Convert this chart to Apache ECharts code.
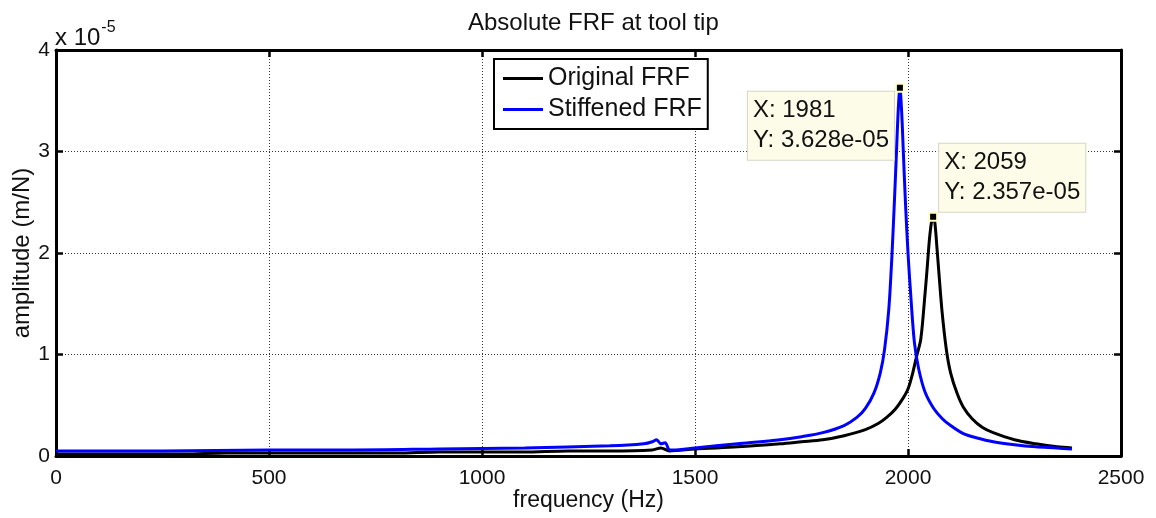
<!DOCTYPE html>
<html>
<head>
<meta charset="utf-8">
<title>Absolute FRF at tool tip</title>
<script src="https://cdn.jsdelivr.net/npm/echarts@6/dist/echarts.min.js"></script>
<style>
  html, body { margin: 0; padding: 0; background: #fff; }
  #chart { width: 1156px; height: 518px; }
</style>
</head>
<body>
<div id="chart"></div>
<script>
// Frequency response magnitude at the tool tip (amplitude in units of 1e-5 m/N)
const AMP_SCALE_EXP = -5;

const originalFreq = [0, 100, 200, 300, 400, 500, 600, 700, 800, 900, 1000, 1100, 1200, 1300, 1400, 1420, 1440,
  1500, 1600, 1700, 1750, 1800, 1850, 1900, 1930, 1950, 1970, 1990, 2000, 2010, 2020, 2030, 2040, 2045, 2050,
  2055, 2059, 2063, 2068, 2073, 2080, 2090, 2100, 2115, 2130, 2150, 2175, 2200, 2250, 2300, 2350, 2385];
const originalAmp = [0.02, 0.02, 0.02, 0.02, 0.03, 0.03, 0.03, 0.03, 0.03, 0.04, 0.04, 0.04, 0.05, 0.05, 0.06, 0.08, 0.05,
  0.07, 0.09, 0.12, 0.14, 0.16, 0.20, 0.26, 0.32, 0.38, 0.46, 0.58, 0.66, 0.80, 0.98, 1.15, 1.60, 1.85, 2.12,
  2.30, 2.357, 2.30, 2.05, 1.78, 1.42, 1.05, 0.82, 0.62, 0.48, 0.37, 0.28, 0.23, 0.16, 0.12, 0.09, 0.08];

const stiffenedFreq = [0, 250, 500, 700, 900, 1100, 1300, 1380, 1400, 1410, 1420, 1430, 1440, 1450,
  1500, 1600, 1700, 1750, 1800, 1850, 1880, 1900, 1920, 1935, 1945, 1955, 1962, 1968, 1973, 1977, 1981,
  1985, 1989, 1994, 2000, 2007, 2015, 2025, 2040, 2060, 2080, 2100, 2130, 2160, 2200, 2250, 2300, 2350, 2385];
const stiffenedAmp = [0.05, 0.05, 0.06, 0.06, 0.07, 0.08, 0.10, 0.12, 0.14, 0.16, 0.12, 0.13, 0.06, 0.06,
  0.08, 0.12, 0.16, 0.19, 0.23, 0.30, 0.38, 0.47, 0.62, 0.82, 1.05, 1.45, 1.95, 2.50, 3.00, 3.40, 3.628,
  3.40, 3.00, 2.50, 2.00, 1.55, 1.12, 0.86, 0.63, 0.47, 0.37, 0.30, 0.22, 0.18, 0.14, 0.11, 0.09, 0.08, 0.07];

// Data tips at the two resonance peaks
const tipOriginal = [2059, 2.357];
const tipStiffened = [1981, 3.628];

const xTicks = [0, 500, 1000, 1500, 2000, 2500];
const yTicks = [0, 1, 2, 3, 4];

const FONT = '"Liberation Sans", Arial, sans-serif';
const INK = '#111';

function pairs(xs, ys) { return xs.map((x, i) => [x, ys[i]]); }

function tipText(p) {
  const v = p[1] * Math.pow(10, AMP_SCALE_EXP);
  let s = v.toExponential(3);               // e.g. 3.628e-5
  s = s.replace(/e([+-])(\d)$/, 'e$10$2');  // two-digit exponent
  return 'X: ' + p[0] + '\nY: ' + s;
}

const tipLabel = {
  show: true,
  color: INK,
  fontFamily: FONT,
  fontSize: 24,
  lineHeight: 30,
  align: 'left',
  backgroundColor: '#fcfce8',
  borderColor: '#d6d6c6',
  borderWidth: 1,
  padding: [4, 5, 4, 5]
};

const frameAxisLine = { show: true, onZero: false, lineStyle: { color: '#000', width: 3 } };
const innerTick = { show: true, inside: true, length: 7, lineStyle: { color: '#000', width: 2.5 } };
const gridDots = { show: true, lineStyle: { color: '#333', width: 1, type: [1, 2] } };

const chart = echarts.init(document.getElementById('chart'), null, { renderer: 'canvas' });

chart.setOption({
  animation: false,
  backgroundColor: '#fff',
  textStyle: { fontFamily: FONT, color: INK },
  title: {
    text: 'Absolute FRF at tool tip',
    left: 463,
    top: 6,
    textStyle: { fontFamily: FONT, fontSize: 24, fontWeight: 'normal', color: INK }
  },
  grid: { left: 56, right: 35, top: 50, bottom: 62, containLabel: false, outerBoundsMode: 'none' },
  legend: {
    left: 494,
    top: 59,
    orient: 'vertical',
    icon: 'rect',
    itemWidth: 40,
    itemHeight: 3,
    itemGap: 6,
    padding: [7, 6, 7, 9],
    backgroundColor: '#fff',
    borderColor: '#000',
    borderWidth: 2,
    textStyle: { fontFamily: FONT, fontSize: 25, color: INK },
    data: ['Original FRF', 'Stiffened FRF']
  },
  xAxis: [
    {
      type: 'value', min: xTicks[0], max: xTicks[xTicks.length - 1], interval: 500,
      name: 'frequency (Hz)', nameLocation: 'middle', nameGap: 33, nameMoveOverlap: false,
      nameTextStyle: { fontFamily: FONT, fontSize: 23, color: INK },
      axisLine: frameAxisLine, axisTick: innerTick, splitLine: gridDots,
      axisLabel: { fontFamily: FONT, fontSize: 21, color: INK, margin: 12, formatter: v => String(v) }
    },
    {
      type: 'value', position: 'top', min: xTicks[0], max: xTicks[xTicks.length - 1], interval: 500,
      axisLine: frameAxisLine, axisTick: innerTick, splitLine: { show: false },
      axisLabel: { show: false }
    }
  ],
  yAxis: [
    {
      type: 'value', min: yTicks[0], max: yTicks[yTicks.length - 1], interval: 1,
      name: 'amplitude (m/N)', nameLocation: 'middle', nameGap: 22, nameMoveOverlap: false,
      nameTextStyle: { fontFamily: FONT, fontSize: 24, color: INK },
      axisLine: frameAxisLine, axisTick: innerTick, splitLine: gridDots,
      axisLabel: { fontFamily: FONT, fontSize: 21, color: INK, margin: 6, formatter: v => String(v) }
    },
    {
      type: 'value', position: 'right', min: yTicks[0], max: yTicks[yTicks.length - 1], interval: 1,
      axisLine: frameAxisLine, axisTick: innerTick, splitLine: { show: false },
      axisLabel: { show: false }
    }
  ],
  graphic: [
    {
      type: 'text',
      left: 55,
      top: 20,
      style: {
        text: '{b|x 10}{s|' + AMP_SCALE_EXP + '}',
        rich: {
          b: { fontFamily: FONT, fontSize: 24, fill: INK, verticalAlign: 'bottom' },
          s: { fontFamily: FONT, fontSize: 16, fill: INK, verticalAlign: 'top', padding: [0, 0, 14, 1] }
        }
      }
    }
  ],
  series: [
    {
      name: 'Original FRF',
      type: 'line',
      data: pairs(originalFreq, originalAmp),
      showSymbol: false,
      symbol: 'none',
      smooth: 0.3,
      color: '#000',
      lineStyle: { color: '#000', width: 3 },
      z: 3,
      markPoint: {
        symbol: 'rect',
        symbolSize: 8,
        itemStyle: { color: '#000', borderColor: '#ffffc8', borderWidth: 2 },
        label: Object.assign({}, tipLabel, {
          position: [11, 0], verticalAlign: 'bottom',
          formatter: () => tipText(tipOriginal)
        }),
        data: [{ coord: tipOriginal }]
      }
    },
    {
      name: 'Stiffened FRF',
      type: 'line',
      data: pairs(stiffenedFreq, stiffenedAmp),
      showSymbol: false,
      symbol: 'none',
      smooth: 0.3,
      color: '#0000ff',
      lineStyle: { color: '#0000ff', width: 3 },
      z: 4,
      markPoint: {
        symbol: 'rect',
        symbolSize: 8,
        itemStyle: { color: '#000', borderColor: '#ffffc8', borderWidth: 2 },
        label: Object.assign({}, tipLabel, {
          position: [-147, 9], verticalAlign: 'top',
          formatter: () => tipText(tipStiffened)
        }),
        data: [{ coord: tipStiffened }]
      }
    }
  ]
});
</script>
</body>
</html>
